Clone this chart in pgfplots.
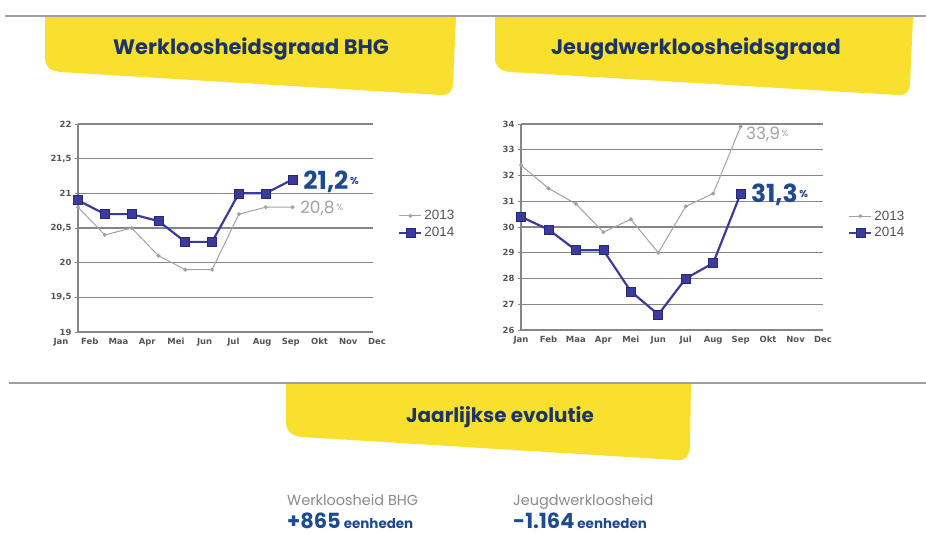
\documentclass[border=0pt]{standalone}
\usepackage{fontspec}
\setmainfont{Liberation Sans}
\newfontfamily\pop{Poppins}
\newfontfamily\dvs{DejaVu Sans}
\usepackage{pgfplots}
\pgfplotsset{compat=1.18}
\definecolor{ylw}{HTML}{F9DF2E}
\definecolor{navy}{HTML}{1D3566}
\definecolor{s14}{HTML}{3B3B9E}
\definecolor{s14d}{HTML}{28287A}
\definecolor{s13}{HTML}{A3A3A3}
\definecolor{gridc}{HTML}{868686}
\definecolor{lblblue}{HTML}{1E4A8F}
\definecolor{tickc}{HTML}{555555}
\definecolor{bottxt}{HTML}{8A8A8A}

\pgfplotsset{
  chartbase/.style={
    scale only axis, anchor=south west, clip=false,
    axis x line*=bottom, axis y line*=left,
    axis line style={gridc, line width=1.1bp},
    ymajorgrids, grid style={gridc, line width=1.1bp},
    xtick=\empty,
    ytick style={gridc, line width=0.8bp},
    major tick length=3bp,
    tick align=outside,
    yticklabel style={font=\dvs\bfseries\fontsize{8.5}{9}\selectfont, text=tickc, /pgf/number format/.cd, use comma, fixed, precision=1, assume math mode=true},
    legend style={draw=none, fill=none, font=\fontsize{13.5}{15}\selectfont, text=tickc, inner sep=0pt, row sep=2bp, cells={anchor=west}},
    legend cell align=left,
    legend image code/.code={\draw[##1, mark repeat=2, mark phase=2] plot coordinates {(0bp,0bp) (11bp,0bp) (22bp,0bp)};},
  },
  labelaxis/.style={
    scale only axis, anchor=south west,
    axis line style={draw=none}, ytick=\empty, ymin=0, ymax=1,
    xmin=0, xmax=11, xtick={0,...,11},
    xticklabels={Jan,Feb,Maa,Apr,Mei,Jun,Jul,Aug,Sep,Okt,Nov,Dec},
    major tick length=0pt,
    xticklabel style={font=\dvs\bfseries\fontsize{8.5}{9}\selectfont, text=tickc, yshift=-2.5bp},
  },
  s13style/.style={s13, line width=1bp, mark=*, mark size=1.5bp, mark options={fill=s13, draw=s13}},
  s14style/.style={s14, line width=2.2bp, mark=square*, mark size=4.5bp, mark options={fill=s14, draw=s14d, line width=0.6bp}},
}

\begin{document}
\begin{tikzpicture}[x=1bp, y=-1bp]
\useasboundingbox (0,0) rectangle (926,534);
\fill[white] (0,0) rectangle (926,534);

% banners
\fill[ylw] (45,17) -- (456,17) -- (453,85) .. controls (452,92) and (448,96) .. (440,95) -- (60,72) .. controls (50,71) and (45,66) .. (45,58) -- cycle;
\fill[ylw] (495,17) -- (913,17) -- (910,85) .. controls (909,92) and (905,96) .. (897,95) -- (510,72) .. controls (500,71) and (495,66) .. (495,58) -- cycle;
\fill[ylw] (286,384) -- (691,384) -- (690,448) .. controls (689,456) and (685,461) .. (677,460) -- (302,437) .. controls (292,436) and (286,431) .. (286,423) -- cycle;
\draw[gray!75, line width=1.4bp] (5,16) -- (926,16);
\draw[gray!75, line width=1.4bp] (9,383) -- (926,383);

\node[anchor=base, inner sep=0, font=\pop\bfseries\fontsize{21}{24}\selectfont, text=navy] at (251,55) {Werkloosheidsgraad BHG};
\node[anchor=base, inner sep=0, font=\pop\bfseries\fontsize{21}{24}\selectfont, text=navy] at (696,55) {Jeugdwerkloosheidsgraad};
\node[anchor=base, inner sep=0, font=\pop\bfseries\fontsize{20}{24}\selectfont, text=navy] at (500,422) {Jaarlijkse evolutie};

% left chart
\begin{axis}[chartbase, at={(78bp,-332bp)}, width=295bp, height=208bp,
  xmin=0, xmax=11, ymin=19, ymax=22, ytick={19,19.5,20,20.5,21,21.5,22},
  legend style={at={(1.085,0.595)}, anchor=north west}]
\addplot[s13style] coordinates {(0,20.8) (1,20.4) (2,20.5) (3,20.1) (4,19.9) (5,19.9) (6,20.7) (7,20.8) (8,20.8)};
\addplot[s14style] coordinates {(0,20.9) (1,20.7) (2,20.7) (3,20.6) (4,20.3) (5,20.3) (6,21.0) (7,21.0) (8,21.2)};
\legend{2013,2014}
\node[anchor=base west, inner sep=0, text=lblblue] at (axis cs:8.4,21.06) {{\pop\bfseries\fontsize{25}{26}\selectfont 21,2}\,\raisebox{5bp}{\pop\bfseries\fontsize{10}{10}\selectfont\%}};
\node[anchor=base west, inner sep=0, text=s13] at (axis cs:8.28,20.71) {{\pop\fontsize{17}{18}\selectfont 20,8}\,\raisebox{3bp}{\pop\fontsize{9}{9}\selectfont\%}};
\end{axis}
\begin{axis}[labelaxis, at={(61bp,-332bp)}, width=316bp, height=208bp]
\end{axis}

% right chart
\begin{axis}[chartbase, at={(521bp,-330bp)}, width=302bp, height=206bp,
  xmin=0, xmax=11, ymin=26, ymax=34, ytick={26,...,34},
  legend style={at={(1.083,0.59)}, anchor=north west}]
\addplot[s13style] coordinates {(0,32.4) (1,31.5) (2,30.9) (3,29.8) (4,30.3) (5,29.0) (6,30.8) (7,31.3) (8,33.9)};
\addplot[s14style] coordinates {(0,30.4) (1,29.9) (2,29.1) (3,29.1) (4,27.5) (5,26.6) (6,28.0) (7,28.6) (8,31.3)};
\legend{2013,2014}
\node[anchor=base west, inner sep=0, text=lblblue] at (axis cs:8.37,30.97) {{\pop\bfseries\fontsize{25}{26}\selectfont 31,3}\,\raisebox{5bp}{\pop\bfseries\fontsize{10}{10}\selectfont\%}};
\node[anchor=base west, inner sep=0, text=s13] at (axis cs:8.19,33.38) {{\pop\fontsize{17}{18}\selectfont 33,9}\,\raisebox{3bp}{\pop\fontsize{9}{9}\selectfont\%}};
\end{axis}
\begin{axis}[labelaxis, at={(521bp,-330bp)}, width=302bp, height=206bp]
\end{axis}

% bottom figures
\node[anchor=base west, inner sep=0, font=\pop\fontsize{14.5}{16}\selectfont, text=bottxt] at (287,505) {Werkloosheid BHG};
\node[anchor=base west, inner sep=0, font=\pop\fontsize{14.5}{16}\selectfont, text=bottxt] at (513,505) {Jeugdwerkloosheid};
\node[anchor=base west, inner sep=0, text=lblblue] at (287,528) {{\pop\bfseries\fontsize{21}{22}\selectfont +865}\hspace{3bp}{\pop\bfseries\fontsize{13.5}{14}\selectfont eenheden}};
\node[anchor=base west, inner sep=0, text=lblblue] at (513,528) {{\pop\bfseries\fontsize{21}{22}\selectfont -1.164}\hspace{3bp}{\pop\bfseries\fontsize{13.5}{14}\selectfont eenheden}};
\end{tikzpicture}
\end{document}
